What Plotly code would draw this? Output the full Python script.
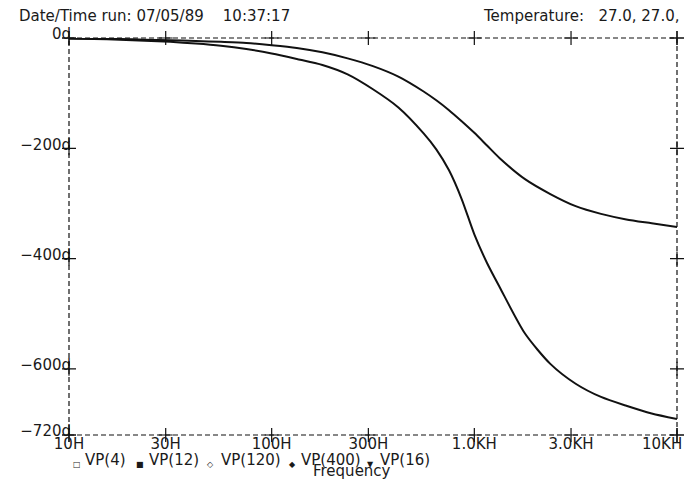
import math
import plotly.graph_objects as go

# ---------------- data ----------------
freq_hz = [10, 13.3, 17.8, 23.7, 31.6, 42.2, 56.2, 75, 100, 133, 178, 237, 316, 422, 562,
           649, 750, 866, 1000, 1155, 1334, 1778, 2371, 3162, 4217, 5623, 7499, 10000]
vp_upper_deg = [-1, -1.5, -2, -3, -4, -5.5, -7, -9, -13, -18, -26, -37, -51, -70, -97,
                -113, -131, -151, -172, -195, -218, -256, -283, -305, -319, -329, -336, -343]
vp_lower_deg = [-1, -2, -3, -5, -7, -10, -14, -20, -28, -38, -49, -66, -93, -126, -173,
                -202, -240, -292, -356, -408, -452, -536, -591, -627, -651, -667, -681, -691]

x_tick_vals = [10, 30, 100, 300, 1000, 3000, 10000]
x_tick_text = ["10H", "30H", "100H", "300H", "1.0KH", "3.0KH", "10KH"]
y_tick_vals = [0, -200, -400, -600, -720]
y_tick_text = ["0d", "\u2212200d", "\u2212400d", "\u2212600d", "\u2212720d"]

legend_names = ["VP(4)", "VP(12)", "VP(120)", "VP(400)", "VP(16)"]
legend_symbols = ["\u25a1", "\u25a0", "\u25c7", "\u25c6", "\u25bc"]

header_left = "Date/Time run: 07/05/89\u00a0\u00a0\u00a0\u00a010:37:17"
header_right = "Temperature:\u00a0\u00a0 27.0,\u00a027.0,"
x_title = "Frequency"

# ---------------- layout helpers ----------------
OFF = 8                      # default page body margin
W, H = 688, 472
L, R, T, B = 56, 19, 30, 45
PW, PH = W - L - R, H - T - B
FONT = "DejaVu Sans"
INK = "#1a1a1a"
TICKFONT = dict(size=15, family=FONT, color=INK)


def px2x(px):
    return (px - OFF - L) / PW


def px2y(py):
    return (H - B - (py - OFF)) / PH


fig = go.Figure()

for yv in (vp_upper_deg, vp_lower_deg):
    fig.add_trace(go.Scatter(x=freq_hz, y=yv, mode="lines",
                             line=dict(color="#111111", width=2, shape="spline", smoothing=0.7),
                             showlegend=False, hoverinfo="skip"))

# "+" marks on the frame at every tick intersection
cx, cy = [], []
for xv in x_tick_vals:
    cx += [xv, xv]
    cy += [y_tick_vals[0], y_tick_vals[-1]]
for yv in y_tick_vals:
    cx += [x_tick_vals[0], x_tick_vals[-1]]
    cy += [yv, yv]
fig.add_trace(go.Scatter(x=cx, y=cy, mode="markers",
                         marker=dict(symbol="cross-thin", size=10,
                                     line=dict(color="#111111", width=1.2)),
                         showlegend=False, hoverinfo="skip", cliponaxis=False))

# dashed frame
fig.add_shape(type="rect", xref="x domain", yref="y domain", x0=0, x1=1, y0=0, y1=1,
              line=dict(color="#111111", width=1.2, dash="5px,3px"), layer="above")

ann = []
ann.append(dict(text=header_left, x=px2x(12), y=px2y(16), xanchor="left", yanchor="middle"))
ann.append(dict(text=header_right, x=px2x(681), y=px2y(16), xanchor="right", yanchor="middle"))
ann.append(dict(text=x_title, x=px2x(349), y=px2y(471), xanchor="center", yanchor="middle"))

sym_px = [72, 136, 207, 289, 368]
txt_px = [78, 143, 215, 296, 376]
for s, name, sp, tp in zip(legend_symbols, legend_names, sym_px, txt_px):
    ann.append(dict(text=s, x=px2x(sp), y=px2y(465), xanchor="center", yanchor="middle",
                    font=dict(size=8, family=FONT, color=INK)))
    ann.append(dict(text=name, x=px2x(tp), y=px2y(460), xanchor="left", yanchor="middle"))

for a in ann:
    a.setdefault("font", dict(size=15, family=FONT, color=INK))
    a.update(xref="paper", yref="paper", showarrow=False)

# last x tick label, kept inside the page (right-aligned to its tick)
ann.append(dict(text=x_tick_text[-1], x=math.log10(x_tick_vals[-1]), xref="x",
                y=px2y(444), yref="paper", xanchor="right", yanchor="middle",
                xshift=7, showarrow=False, font=TICKFONT))

fig.update_layout(
    width=W, height=H,
    margin=dict(l=L, r=R, t=T, b=B),
    paper_bgcolor="white", plot_bgcolor="white",
    font=dict(family=FONT, size=15, color=INK),
    annotations=ann,
    showlegend=False,
)
fig.update_xaxes(type="log", range=[1, 4], tickvals=x_tick_vals[:-1], ticktext=x_tick_text[:-1],
                 showgrid=False, zeroline=False, showline=False, ticks="",
                 ticklabelstandoff=-2, tickfont=TICKFONT)
fig.update_yaxes(range=[-720, 0], tickvals=y_tick_vals, ticktext=y_tick_text,
                 showgrid=False, zeroline=False, showline=False, ticks="",
                 ticklabelstandoff=-3, ticklabelshift=-4, tickfont=TICKFONT)

fig.write_html("out.html")
